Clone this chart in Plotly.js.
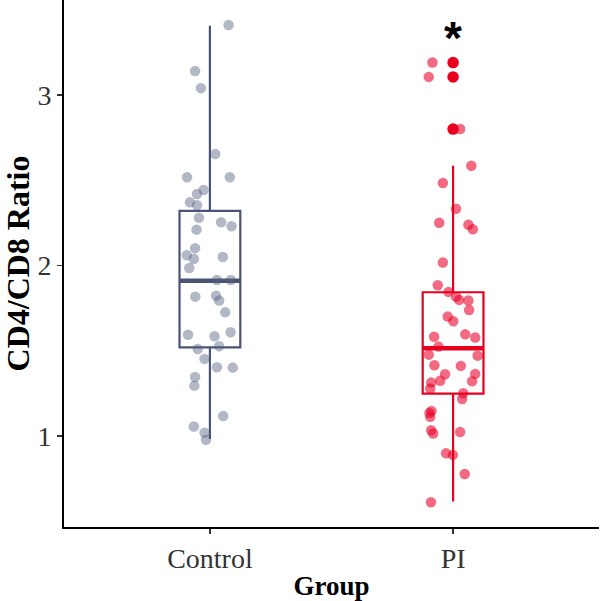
<!DOCTYPE html>
<html>
<head>
<meta charset="utf-8">
<script src="https://cdn.plot.ly/plotly-3.0.1.min.js"></script>
<style>html,body{margin:0;padding:0;background:#fff}#chart{width:600px;height:601px}</style>
</head>
<body>
<div id="chart"></div>
<script>
// Categories
const groups = ["Control", "PI"];

// Box statistics
const q1 = [1.52, 1.248];
const medians = [1.911, 1.514];
const q3 = [2.32, 1.843];
const lowerWhisker = [0.982, 0.615];
const upperWhisker = [3.406, 2.585];

// Outliers (PI)
const piOutliers = [3.19, 3.106, 2.80];

// Individual values (jittered points) and their horizontal jitter offsets
const controlValues = [3.41, 3.14, 3.04, 2.654, 2.517, 2.517, 2.443, 2.419, 2.371, 2.353, 2.28, 2.253, 2.23, 2.21, 2.101, 2.06, 2.038, 2.05, 1.985, 1.915, 1.915, 1.817, 1.823, 1.794, 1.725, 1.594, 1.585, 1.608, 1.51, 1.526, 1.452, 1.403, 1.401, 1.346, 1.295, 1.117, 1.055, 1.019, 0.978];
const controlJitter = [0.077, -0.061, -0.037, 0.022, -0.094, 0.082, -0.026, -0.053, -0.082, -0.053, -0.045, 0.046, 0.089, -0.055, -0.061, -0.095, -0.066, 0.053, -0.085, 0.029, 0.086, -0.06, 0.025, 0.038, 0.063, -0.09, 0.019, 0.085, -0.05, 0.038, -0.022, 0.029, 0.094, -0.061, -0.064, 0.055, -0.066, -0.022, -0.016];

const piValues = [3.19, 3.106, 2.80, 2.585, 2.484, 2.333, 2.251, 2.239, 2.212, 2.017, 1.884, 1.845, 1.817, 1.798, 1.794, 1.739, 1.70, 1.673, 1.596, 1.582, 1.577, 1.524, 1.477, 1.471, 1.415, 1.411, 1.364, 1.362, 1.324, 1.321, 1.313, 1.278, 1.25, 1.217, 1.147, 1.135, 1.112, 1.033, 1.023, 1.014, 0.898, 0.889, 0.777, 0.611];
const piJitter = [-0.085, -0.1, 0.029, 0.075, -0.042, 0.012, -0.057, 0.063, 0.081, -0.042, -0.063, -0.019, 0.012, 0.025, 0.063, 0.066, -0.022, 0.001, 0.05, -0.078, 0.091, -0.06, -0.1, 0.101, -0.077, 0.032, 0.091, -0.033, -0.053, 0.078, -0.09, -0.094, 0.042, 0.037, -0.089, -0.097, -0.094, -0.09, 0.029, -0.082, -0.029, -0.001, 0.048, -0.091];

const signifLabel = "*";

const boxColors = ["#4B5573", "#E8001E"];
const pointColors = ["rgba(85,97,128,0.45)", "rgba(232,0,40,0.58)"];
const boxWidth = 0.25;

const traces = [];
groups.forEach((g, i) => {
  const xc = i + 1;
  traces.push({
    type: "box", x: [xc], q1: [q1[i]], median: [medians[i]], q3: [q3[i]],
    lowerfence: [lowerWhisker[i]], upperfence: [upperWhisker[i]],
    width: boxWidth, whiskerwidth: 0, boxpoints: false,
    line: {color: boxColors[i], width: 2.2}, fillcolor: "rgba(255,255,255,0)",
    hoverinfo: "skip", showlegend: false
  });
  traces.push({
    type: "scatter", mode: "lines", x: [xc - boxWidth / 2, xc + boxWidth / 2],
    y: [medians[i], medians[i]], line: {color: boxColors[i], width: 4.5},
    hoverinfo: "skip", showlegend: false
  });
});
traces.push({
  type: "scatter", mode: "markers", x: piOutliers.map(() => 2), y: piOutliers,
  marker: {color: boxColors[1], size: 11.5}, showlegend: false, hoverinfo: "skip"
});
traces.push({
  type: "scatter", mode: "markers", x: controlValues.map((v, k) => 1 + controlJitter[k]), y: controlValues,
  marker: {color: pointColors[0], size: 10.5}, showlegend: false
});
traces.push({
  type: "scatter", mode: "markers", x: piValues.map((v, k) => 2 + piJitter[k]), y: piValues,
  marker: {color: pointColors[1], size: 10.5}, showlegend: false
});

const layout = {
  width: 600, height: 601,
  margin: {l: 64, r: 1, t: 0, b: 74},
  paper_bgcolor: "#fff", plot_bgcolor: "#fff",
  font: {family: "Liberation Serif, Times New Roman, serif", color: "#000"},
  xaxis: {
    range: [0.4, 2.6], tickvals: [1, 2], ticktext: groups,
    showgrid: false, zeroline: false, showline: true, linecolor: "#000", linewidth: 2,
    ticks: "outside", ticklen: 5, tickwidth: 1.5, tickcolor: "#333",
    tickfont: {size: 28, color: "#333"},
    title: {text: "<b>Group</b>", font: {size: 27, color: "#000"}, standoff: 4}
  },
  yaxis: {
    range: [0.466, 3.557], tickvals: [1, 2, 3],
    showgrid: false, zeroline: false, showline: true, linecolor: "#000", linewidth: 2,
    ticks: "outside", ticklen: 5, tickwidth: 1.5, tickcolor: "#333",
    tickfont: {size: 28, color: "#333"},
    title: {text: "<b>CD4/CD8 Ratio</b>", font: {size: 32, color: "#000"}, standoff: 6}
  },
  annotations: [{
    x: 2, y: 3.37, xref: "x", yref: "y", text: "<b>" + signifLabel + "</b>", showarrow: false,
    font: {family: "Liberation Sans, Arial, sans-serif", size: 46, color: "#000"},
    xanchor: "center", yanchor: "middle", yshift: -6
  }]
};

Plotly.newPlot("chart", traces, layout, {displayModeBar: false, staticPlot: true});
</script>
</body>
</html>
